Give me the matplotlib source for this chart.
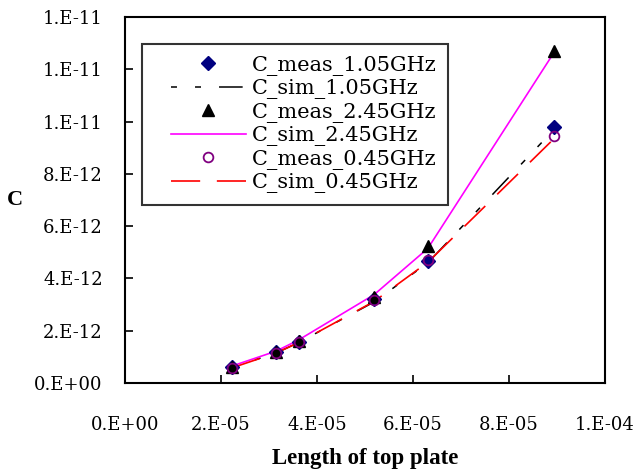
import matplotlib
matplotlib.use("Agg")
import matplotlib.pyplot as plt
from matplotlib.ticker import FixedLocator
from matplotlib.legend_handler import HandlerLine2D

plt.rcParams['lines.scale_dashes'] = False

length = [2.23e-5, 3.15e-5, 3.62e-5, 5.19e-5, 6.31e-5, 8.94e-5]
c_meas_105 = [0.60e-12, 1.17e-12, 1.58e-12, 3.20e-12, 4.68e-12, 9.80e-12]
c_sim_105 = [0.60e-12, 1.15e-12, 1.55e-12, 3.10e-12, 4.60e-12, 9.70e-12]
c_meas_245 = [0.62e-12, 1.20e-12, 1.62e-12, 3.30e-12, 5.25e-12, 12.70e-12]
c_sim_245 = [0.65e-12, 1.22e-12, 1.65e-12, 3.38e-12, 5.15e-12, 12.65e-12]
c_meas_045 = [0.58e-12, 1.16e-12, 1.57e-12, 3.18e-12, 4.70e-12, 9.45e-12]
c_sim_045 = [0.58e-12, 1.15e-12, 1.55e-12, 3.12e-12, 4.62e-12, 9.35e-12]

xticks = [0, 2e-5, 4e-5, 6e-5, 8e-5, 1e-4]
xticklabels = ["0.E+00", "2.E-05", "4.E-05", "6.E-05", "8.E-05", "1.E-04"]
yticks = [0, 2e-12, 4e-12, 6e-12, 8e-12, 1.0e-11, 1.2e-11, 1.4e-11]
yticklabels = ["0.E+00", "2.E-12", "4.E-12", "6.E-12", "8.E-12", "1.E-11", "1.E-11", "1.E-11"]

fig = plt.figure(figsize=(6.4, 4.71), dpi=100)
ax = fig.add_axes([125/640, 1-383/471, 480/640, 366/471])

ax.plot(length, c_meas_105, linestyle='none', marker='D', color='#000080', markersize=7, label='C_meas_1.05GHz', zorder=4)
ax.plot(length, c_sim_105, color='black', linewidth=1.1, dashes=(4.3, 13, 4.3, 13, 17, 13), label='C_sim_1.05GHz', zorder=3)
ax.plot(length, c_meas_245, linestyle='none', marker='^', color='black', markersize=9, label='C_meas_2.45GHz', zorder=4)
ax.plot(length, c_sim_245, color='#ff00ff', linewidth=1.2, label='C_sim_2.45GHz', zorder=3)
ax.plot(length, c_meas_045, linestyle='none', marker='o', markerfacecolor='none', markeredgecolor='#800080', markeredgewidth=1.3, markersize=7, label='C_meas_0.45GHz', zorder=4)
ax.plot(length, c_sim_045, color='#ff0000', linewidth=1.2, dashes=(21, 12), label='C_sim_0.45GHz', zorder=3)

ax.set_xlim(0, 1e-4)
ax.set_ylim(0, 1.4e-11)
ax.xaxis.set_major_locator(FixedLocator(xticks))
ax.yaxis.set_major_locator(FixedLocator(yticks))
ax.set_xticklabels(xticklabels, family='DejaVu Serif', fontsize=13)
ax.set_yticklabels(yticklabels, family='DejaVu Serif', fontsize=13)
ax.tick_params(direction='in', length=6, width=1.2, top=False, right=False)
ax.tick_params(axis='x', pad=24)
ax.tick_params(axis='y', pad=16)
for s in ax.spines.values():
    s.set_linewidth(1.5)

ax.set_xlabel('Length of top plate', family='Liberation Serif', fontweight='bold', fontsize=16.5, labelpad=10)
ax.set_ylabel('C', family='Liberation Serif', fontweight='bold', fontsize=16, rotation=0, labelpad=14, va='center')

leg = ax.legend(loc='upper left', bbox_to_anchor=(0.035, 0.926), borderaxespad=0,
                prop={'family': 'DejaVu Serif', 'size': 15}, frameon=True, fancybox=False,
                handlelength=4.45, handletextpad=0.3, labelspacing=0.17, borderpad=0.55,
                handler_map={matplotlib.lines.Line2D: HandlerLine2D(xpad=0.85)})
leg.get_frame().set_edgecolor('black')
leg.get_frame().set_linewidth(1.5)

fig.savefig('out.png', dpi=100)
